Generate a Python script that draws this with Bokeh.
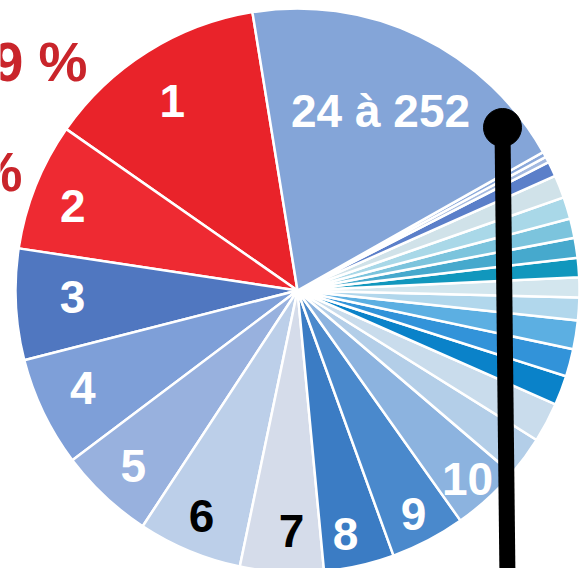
import numpy as np
from bokeh.plotting import figure
from bokeh.models import Range1d, ColumnDataSource
from bokeh.core.properties import value
from bokeh.embed import file_html
from bokeh.resources import INLINE

# ---- data (shares in %, counter-clockwise from the top) ----
categories = ["1", "2", "3", "4", "5", "6", "7", "8", "9", "10",
              "11", "12", "13", "14", "15", "16", "17", "18", "19", "20",
              "21", "22", "23", "24a", "24b", "24 à 252"]
shares = [12.75, 7.31, 6.36, 6.31, 5.47, 5.97, 4.78, 4.03, 4.28, 3.94,
          2.36, 2.28, 1.69, 1.58, 1.64, 1.31, 1.14, 1.11, 1.14, 1.11,
          1.25, 1.31, 0.86, 0.33, 0.31, 19.39]
colors = ["#e9232a", "#ee2a32", "#5077c0", "#7e9fd8", "#98b1de", "#bccfe9",
          "#d5dcea", "#3b7cc4", "#4a89cc", "#8cb3df", "#b3cee8", "#c9dcec",
          "#0a82c9", "#3293d9", "#5cafe2", "#b1d7ec", "#d3e6ee", "#1197bd",
          "#46a9cd", "#7cc4dd", "#a9d8e8", "#d0e2e9", "#5b7fc9", "#a3b9e0",
          "#8aa8da", "#84a5d8"]
labels = ["1", "2", "3", "4", "5", "6", "7", "8", "9", "10", "24 à 252"]
label_colors = ["white", "white", "white", "white", "white", "black", "black",
                "white", "white", "white", "white"]
side_texts = ["9 %", "%"]

# ---- layout ----
W, H = 585, 568
cx, cy, R = 297, -290, 282
start_deg = 99.2
label_r = [227, 240, 225, 236, 240, 245, 241, 248, 252, 254, 198]
label_da = [1.3, 1.2, -1.1, -1.2, 0.0, -0.5, 1.8, -1.5, -0.2, -0.4, 0.9]

sh = np.array(shares, dtype=float)
ang = sh / sh.sum() * 2 * np.pi
ends = np.radians(start_deg) + np.cumsum(ang)
starts = ends - ang

p = figure(width=W, height=H, x_range=Range1d(0, W), y_range=Range1d(-H, 0),
           output_backend="svg", toolbar_location=None, min_border=0,
           x_axis_location=None, y_axis_location=None)
p.grid.visible = False
p.outline_line_color = None
p.background_fill_color = "white"

src = ColumnDataSource(dict(cat=categories, start=starts, end=ends, color=colors))
p.wedge(x=cx, y=cy, radius=R, start_angle="start", end_angle="end",
        fill_color="color", line_color="white", line_width=2.5, source=src)

# labels at mid-angles
idx = [categories.index(l) for l in labels]
mid = (starts[idx] + ends[idx]) / 2 + np.radians(label_da)
lx = cx + np.array(label_r) * np.cos(mid)
ly = cy + np.array(label_r) * np.sin(mid)
p.text(x=lx, y=ly, text=labels, text_color=label_colors,
       text_font=value("Liberation Sans"), text_font_style="bold",
       text_font_size="46px", text_align="center", text_baseline="middle")

# red side texts (cut at the left edge)
p.text(x=[87, 22], y=[-61, -171], text=side_texts, text_color="#c9252b",
       text_font=value("Liberation Sans"), text_font_style="bold",
       text_font_size="55px", text_align="right", text_baseline="middle")

# black pin
p.segment(x0=[502], y0=[-127], x1=[507], y1=[-580], line_color="black", line_width=16)
p.circle(x=[502], y=[-127], radius=19, fill_color="black", line_color="black")

open("out.html", "w").write(file_html(p, INLINE))
